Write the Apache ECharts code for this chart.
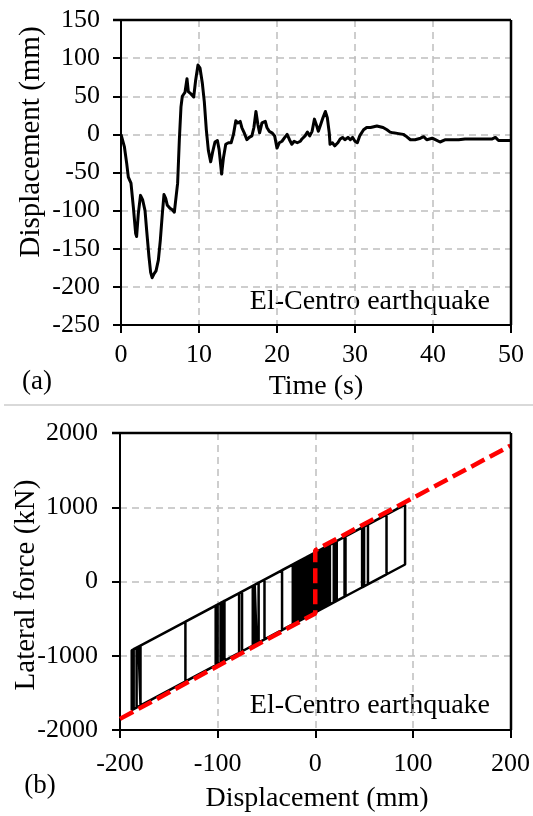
<!DOCTYPE html>
<html>
<head>
<meta charset="utf-8">
<script src="https://cdn.jsdelivr.net/npm/echarts@6/dist/echarts.min.js"></script>
<style>
    html, body { margin: 0; padding: 0; background: #fff; }
    #chart { width: 533px; height: 816px; }
</style>
</head>
<body>
<div id="chart"></div>
<script>
    // (a) displacement time history
    var timeS = [0, 0.43, 0.73, 0.94, 1.15, 1.28, 1.58, 1.88, 2.0, 2.22, 2.5, 2.78, 3.08, 3.29, 3.59, 3.8, 4.0, 4.23, 4.49, 4.79,
        5.04, 5.3, 5.51, 5.73, 5.94, 6.28, 6.58, 6.84, 7.05, 7.26, 7.48, 7.69, 7.86, 8.2, 8.46, 8.63, 8.97, 9.32, 9.57, 9.87,
        10.13, 10.43, 10.68, 10.94, 11.2, 11.5, 11.75, 12.05, 12.36, 12.58, 12.9, 13.13, 13.43, 13.78, 14.12, 14.42, 14.72, 14.98, 15.28, 15.49,
        15.8, 16.14, 16.44, 16.78, 17.04, 17.3, 17.55, 17.77, 18.07, 18.28, 18.5, 18.71, 19.0, 19.36, 19.7, 20.0, 20.3, 20.64, 21.0, 21.3,
        21.6, 21.9, 22.2, 22.6, 23.0, 23.2, 23.6, 23.9, 24.2, 24.5, 24.8, 25.1, 25.3, 25.6, 25.9, 26.2, 26.45, 26.7, 26.8, 27.1,
        27.4, 27.8, 28.1, 28.4, 28.7, 29.1, 29.4, 29.7, 30.0, 30.3, 30.6, 31.1, 31.5, 32.0, 32.4, 32.8, 33.2, 33.6, 34.1, 34.5,
        34.9, 35.6, 36.2, 36.5, 37.1, 37.7, 38.4, 38.8, 39.2, 39.9, 40.3, 40.9, 41.6, 42.4, 43.3, 44.1, 45.0, 45.9, 46.7, 47.6,
        48.0, 48.4, 49.3, 50.0];
    var dispMm = [0, -16, -38, -56, -58, -64, -95, -130, -134, -104, -80, -86, -100, -126, -161, -181, -188, -183, -179, -165,
        -139, -104, -79, -84, -93, -97, -99, -102, -100, -64, -7, 36, 50, 55, 73, 56, 53, 49, 71, 91,
        87, 67, 43, 6, -21, -36, -23, -10, -8, -20, -52, -31, -13, -11, -11, 0, 18, 15, 17, 9,
        2, -7, -4, -2, 9, 30, 13, 2, 15, 13, 17, 9, 4, 2, -2, -18, -11, -9, -4, 0,
        -7, -13, -9, -11, -9, -6, -2, 3, -2, 4, 20, 11, 4, 13, 22, 30, 22, 2, -13, -11,
        -15, -11, -6, -4, -7, -4, -7, -4, -9, -11, -2, 6, 9, 9, 10, 11, 10, 9, 6, 3,
        2, 1, 0, -2, -7, -7, -5, -3, -7, -5, -7, -10, -7, -7, -7, -6, -6, -6, -6, -6,
        -4, -8, -8, -8];

    // (b) hysteresis loop vertices (displacement mm, force kN)
    var loopDisp = [0, 0, -64, -64, -58, -58, -62, -62, -60, -60, -133, -133, -78, -78, -188, -188, -183, -183, -186, -186,
        -179, -179, -181, -181, -75, -75, -97, -97, -93, -93, -100, -100, -95, -95, -102, -102, 54, 54, 50, 50,
        73, 73, 48, 48, 92, 92, -34, -34, -5, -5, -52, -52, -12, -12, -14, -14, 20, 20, 13, 13,
        21, 21, -8, -8, 31, 31, 0, 0, 19, 19, 3, 3, 15, 15, -20, -20, 1, 1, -15, -15,
        -7, -7, -13, -13, -3, -3, -11, -11, 22, 22, 5, 5, 30, 30, -18, -18, -6, -6, -10, -10,
        -2, -2, -22, -22, 10, 10, -4, -4, 7, 7, -9, -9, -1, -1,
        -21, -21, -16, -16, -19, -19, 2, 2, -17, -17, 4, 4, -12, -12, 6, 6, -23, -23, 8, 8,
        -6, -6, 9, 9, -3, -3, 11, 11, -8, -8, 12, 12, -5];
    var loopForce = [0, -415, -863, -58, -16, -821, -849, -44, -30, -835, -1346, -541, -156, -961, -1731, -926, -891, -1696, -1717, -912,
        -863, -1668, -1682, -877, -135, -940, -1094, -289, -261, -1066, -1115, -310, -275, -1080, -1129, -324, 768, -37, -65, 740,
        901, 96, -79, 726, 1034, 229, -653, 152, 355, -450, -779, 26, 306, -499, -513, 292, 530, -275, -324, 481,
        537, -268, -471, 334, 607, -198, -415, 390, 523, -282, -394, 411, 495, -310, -555, 250, 397, -408, -520, 285,
        341, -464, -506, 299, 369, -436, -492, 313, 544, -261, -380, 425, 600, -205, -541, 264, 348, -457, -485, 320,
        376, -429, -569, 236, 460, -345, -443, 362, 439, -366, -478, 327, 383, -422,
        -562, 243, 278, -527, -548, 257, 404, -401, -534, 271, 418, -387, -499, 306, 432, -373, -576, 229, 446, -359,
        -457, 348, 453, -352, -436, 369, 467, -338, -471, 334, 474, -331, -450];

    // red dashed skeleton
    var skelDisp = [-200, 0, 0, 200];
    var skelForce = [-1850, -430, 420, 1830];

    var topXTicks = { min: 0, max: 50, interval: 10 };
    var topYTicks = { min: -250, max: 150, interval: 50 };
    var botXTicks = { min: -200, max: 200, interval: 100 };
    var botYTicks = { min: -2000, max: 2000, interval: 1000 };

    function zip(a, b) {
        var out = [];
        for (var i = 0; i < a.length; i++) {
            out.push([a[i], b[i]]);
        }
        return out;
    }

    var FONT = 'Liberation Serif';
    var gridLine = { show: true, showMinLine: false, showMaxLine: false,
        lineStyle: { color: '#bfbfbf', width: 1.5, type: [7, 5] } };
    var axLine = { show: true, onZero: false, lineStyle: { color: '#000', width: 2 } };
    var axTick = { show: true, inside: false, length: 8, lineStyle: { color: '#000', width: 2 } };

    function valAxis(idx, t, margin) {
        return {
            type: 'value',
            gridIndex: idx,
            min: t.min,
            max: t.max,
            interval: t.interval,
            axisLine: axLine,
            axisTick: axTick,
            splitLine: gridLine,
            axisLabel: {
                color: '#000', fontFamily: FONT, fontSize: 26, margin: margin,
                formatter: function (v) { return String(v); }
            }
        };
    }

    var frameStyle = { stroke: '#000', lineWidth: 2.5 };

    var myChart = echarts.init(document.getElementById('chart'));
    var option = {
        animation: false,
        backgroundColor: '#fff',
        grid: [
            { left: 121, top: 20, width: 390, height: 305 },
            { left: 120, top: 433, width: 391, height: 297 }
        ],
        xAxis: [
            valAxis(0, topXTicks, 17),
            valAxis(1, botXTicks, 21)
        ],
        yAxis: [
            valAxis(0, topYTicks, 21),
            valAxis(1, botYTicks, 22)
        ],
        series: [
            {
                name: 'time history',
                type: 'line',
                xAxisIndex: 0,
                yAxisIndex: 0,
                data: zip(timeS, dispMm),
                showSymbol: false,
                lineStyle: { color: '#000', width: 3, join: 'round' }
            },
            {
                name: 'loop',
                type: 'line',
                xAxisIndex: 1,
                yAxisIndex: 1,
                data: zip(loopDisp, loopForce),
                showSymbol: false,
                lineStyle: { color: '#000', width: 2.5 }
            },
            {
                name: 'skeleton',
                type: 'line',
                xAxisIndex: 1,
                yAxisIndex: 1,
                data: zip(skelDisp, skelForce),
                showSymbol: false,
                z: 5,
                lineStyle: { color: '#ff0000', width: 4.5, type: [15, 6] }
            }
        ],
        graphic: [
            { type: 'text', x: 31, y: 142, rotation: Math.PI / 2,
                style: { text: 'Displacement (mm)', font: '29px "' + FONT + '"', fill: '#000', textAlign: 'center', textVerticalAlign: 'middle' } },
            { type: 'text', x: 316, y: 387,
                style: { text: 'Time (s)', font: '28px "' + FONT + '"', fill: '#000', textAlign: 'center', textVerticalAlign: 'middle' } },
            { type: 'text', x: 37, y: 382,
                style: { text: '(a)', font: '27px "' + FONT + '"', fill: '#000', textAlign: 'center', textVerticalAlign: 'middle' } },
            { type: 'text', x: 490, y: 302,
                style: { text: 'El-Centro earthquake', font: '28px "' + FONT + '"', fill: '#000', textAlign: 'right', textVerticalAlign: 'middle' } },
            { type: 'line', shape: { x1: 4, y1: 405, x2: 533, y2: 405 },
                style: { stroke: '#d9d9d9', lineWidth: 2 } },
            { type: 'text', x: 26, y: 585, rotation: Math.PI / 2,
                style: { text: 'Lateral force (kN)', font: '29px "' + FONT + '"', fill: '#000', textAlign: 'center', textVerticalAlign: 'middle' } },
            { type: 'text', x: 317, y: 799,
                style: { text: 'Displacement (mm)', font: '28px "' + FONT + '"', fill: '#000', textAlign: 'center', textVerticalAlign: 'middle' } },
            { type: 'text', x: 40, y: 786,
                style: { text: '(b)', font: '27px "' + FONT + '"', fill: '#000', textAlign: 'center', textVerticalAlign: 'middle' } },
            { type: 'text', x: 490, y: 706,
                style: { text: 'El-Centro earthquake', font: '28px "' + FONT + '"', fill: '#000', textAlign: 'right', textVerticalAlign: 'middle' } },
            // plot frames (top and right edges)
            { type: 'line', z: 10, shape: { x1: 113, y1: 20, x2: 511, y2: 20 }, style: frameStyle },
            { type: 'line', z: 10, shape: { x1: 511, y1: 20, x2: 511, y2: 325 }, style: frameStyle },
            { type: 'line', z: 10, shape: { x1: 112, y1: 433, x2: 511, y2: 433 }, style: frameStyle },
            { type: 'line', z: 10, shape: { x1: 511, y1: 433, x2: 511, y2: 730 }, style: frameStyle }
        ]
    };
    myChart.setOption(option);
</script>
</body>
</html>
